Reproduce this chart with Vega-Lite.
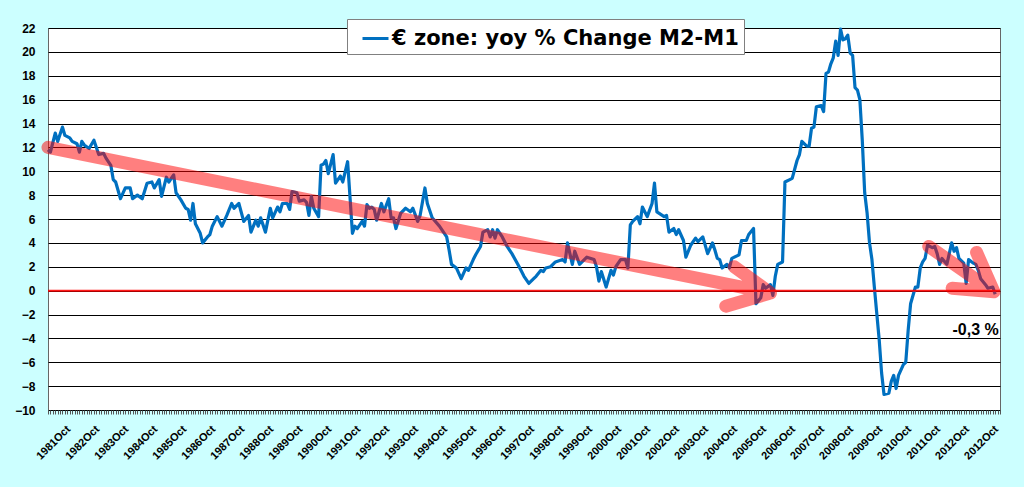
{
  "$schema": "https://vega.github.io/schema/vega-lite/v6.json",
  "width": 952,
  "height": 382,
  "autosize": {"type": "none"},
  "padding": {"left": 48, "top": 28, "right": 24, "bottom": 77},
  "background": "#ccffff",
  "config": {
    "view": {"fill": "white", "stroke": "#666666", "strokeWidth": 1},
    "axisY": {
      "grid": true,
      "gridColor": "black",
      "gridWidth": 1,
      "gridOpacity": 1,
      "domain": false,
      "ticks": false,
      "tickCount": 16,
      "labelOverlap": false,
      "labelFont": "Liberation Sans",
      "labelFontSize": 12,
      "labelFontWeight": "bold",
      "labelColor": "black",
      "labelPadding": 13
    }
  },
  "datasets": {
    "m3": [
      {"m": 0, "v": 11.8}, {"m": 1, "v": 11.6}, {"m": 3, "v": 13.2}, {"m": 4, "v": 12.5},
      {"m": 6, "v": 13.7}, {"m": 7, "v": 13.0}, {"m": 9, "v": 12.8}, {"m": 10, "v": 12.5},
      {"m": 12, "v": 12.3}, {"m": 13, "v": 11.6}, {"m": 14, "v": 12.5}, {"m": 15, "v": 12.2},
      {"m": 17, "v": 11.9}, {"m": 19, "v": 12.6}, {"m": 21, "v": 11.4}, {"m": 23, "v": 11.5},
      {"m": 24, "v": 11.1}, {"m": 26, "v": 10.5}, {"m": 27, "v": 9.3}, {"m": 28, "v": 9.1},
      {"m": 30, "v": 7.7}, {"m": 32, "v": 8.6}, {"m": 34, "v": 8.6}, {"m": 35, "v": 7.7},
      {"m": 37, "v": 8.0}, {"m": 39, "v": 7.7}, {"m": 41, "v": 9.0}, {"m": 43, "v": 9.1},
      {"m": 44, "v": 8.6}, {"m": 46, "v": 9.3}, {"m": 47, "v": 7.9}, {"m": 49, "v": 9.5},
      {"m": 50, "v": 9.1}, {"m": 52, "v": 9.7}, {"m": 53, "v": 8.2}, {"m": 55, "v": 7.6},
      {"m": 57, "v": 6.9}, {"m": 58, "v": 6.8}, {"m": 59, "v": 5.9}, {"m": 60, "v": 7.3},
      {"m": 61, "v": 5.6}, {"m": 63, "v": 4.8}, {"m": 64, "v": 4.0}, {"m": 66, "v": 4.5},
      {"m": 67, "v": 4.7}, {"m": 68, "v": 5.4}, {"m": 70, "v": 6.2}, {"m": 72, "v": 5.4},
      {"m": 74, "v": 6.3}, {"m": 76, "v": 7.3}, {"m": 77, "v": 6.9}, {"m": 79, "v": 7.3},
      {"m": 81, "v": 5.8}, {"m": 83, "v": 6.3}, {"m": 84, "v": 4.9}, {"m": 86, "v": 5.9},
      {"m": 87, "v": 5.4}, {"m": 88, "v": 6.1}, {"m": 90, "v": 4.9}, {"m": 92, "v": 6.9},
      {"m": 93, "v": 6.1}, {"m": 95, "v": 7.0}, {"m": 96, "v": 6.6}, {"m": 97, "v": 7.3},
      {"m": 99, "v": 7.3}, {"m": 100, "v": 6.8}, {"m": 101, "v": 8.3}, {"m": 103, "v": 8.2},
      {"m": 104, "v": 7.5}, {"m": 106, "v": 7.6}, {"m": 107, "v": 7.4}, {"m": 108, "v": 6.3},
      {"m": 109, "v": 7.9}, {"m": 110, "v": 6.9}, {"m": 112, "v": 6.2}, {"m": 113, "v": 10.5},
      {"m": 114, "v": 10.6}, {"m": 115, "v": 10.9}, {"m": 116, "v": 9.8}, {"m": 118, "v": 11.4},
      {"m": 119, "v": 9.0}, {"m": 121, "v": 9.6}, {"m": 122, "v": 9.1}, {"m": 124, "v": 10.8},
      {"m": 126, "v": 4.8}, {"m": 127, "v": 5.4}, {"m": 128, "v": 5.2}, {"m": 130, "v": 5.8},
      {"m": 131, "v": 5.4}, {"m": 132, "v": 7.2}, {"m": 133, "v": 6.9}, {"m": 134, "v": 7.0},
      {"m": 135, "v": 6.8}, {"m": 136, "v": 5.9}, {"m": 138, "v": 7.3}, {"m": 139, "v": 6.6},
      {"m": 141, "v": 7.7}, {"m": 142, "v": 6.1}, {"m": 143, "v": 6.1}, {"m": 144, "v": 5.2},
      {"m": 146, "v": 6.5}, {"m": 148, "v": 6.9}, {"m": 150, "v": 6.6}, {"m": 151, "v": 6.9},
      {"m": 153, "v": 5.8}, {"m": 154, "v": 6.3}, {"m": 156, "v": 8.6}, {"m": 157, "v": 7.3},
      {"m": 159, "v": 6.1}, {"m": 162, "v": 5.4}, {"m": 165, "v": 4.5}, {"m": 166, "v": 3.4},
      {"m": 167, "v": 2.2}, {"m": 169, "v": 1.9}, {"m": 171, "v": 1.0}, {"m": 173, "v": 1.9},
      {"m": 174, "v": 1.7}, {"m": 176, "v": 2.6}, {"m": 177, "v": 3.0}, {"m": 179, "v": 3.7},
      {"m": 180, "v": 4.9}, {"m": 182, "v": 5.1}, {"m": 183, "v": 4.5}, {"m": 184, "v": 5.1},
      {"m": 185, "v": 4.4}, {"m": 186, "v": 5.1}, {"m": 188, "v": 4.5}, {"m": 190, "v": 3.7},
      {"m": 192, "v": 3.1}, {"m": 195, "v": 2.0}, {"m": 197, "v": 1.2}, {"m": 199, "v": 0.6},
      {"m": 201, "v": 1.0}, {"m": 202, "v": 1.2}, {"m": 204, "v": 1.7}, {"m": 205, "v": 1.6},
      {"m": 206, "v": 1.9}, {"m": 208, "v": 2.0}, {"m": 210, "v": 2.4}, {"m": 213, "v": 2.6},
      {"m": 214, "v": 2.4}, {"m": 215, "v": 4.0}, {"m": 217, "v": 2.2}, {"m": 218, "v": 3.3},
      {"m": 220, "v": 2.2}, {"m": 223, "v": 2.8}, {"m": 226, "v": 2.6}, {"m": 227, "v": 2.0},
      {"m": 228, "v": 0.8}, {"m": 229, "v": 1.6}, {"m": 231, "v": 0.3}, {"m": 233, "v": 1.7},
      {"m": 234, "v": 1.3}, {"m": 235, "v": 2.0}, {"m": 237, "v": 2.6}, {"m": 239, "v": 2.6},
      {"m": 240, "v": 1.9}, {"m": 241, "v": 5.5}, {"m": 242, "v": 5.8}, {"m": 244, "v": 6.2},
      {"m": 245, "v": 5.6}, {"m": 246, "v": 7.0}, {"m": 248, "v": 6.2}, {"m": 250, "v": 7.3},
      {"m": 251, "v": 9.0}, {"m": 252, "v": 6.6}, {"m": 255, "v": 6.2}, {"m": 256, "v": 6.3},
      {"m": 257, "v": 4.9}, {"m": 259, "v": 5.2}, {"m": 260, "v": 4.7}, {"m": 261, "v": 5.1},
      {"m": 263, "v": 4.2}, {"m": 264, "v": 2.8}, {"m": 266, "v": 3.8}, {"m": 267, "v": 4.1},
      {"m": 268, "v": 4.4}, {"m": 269, "v": 4.1}, {"m": 271, "v": 4.5}, {"m": 273, "v": 3.1},
      {"m": 275, "v": 4.0}, {"m": 276, "v": 3.4}, {"m": 277, "v": 2.7}, {"m": 278, "v": 2.6},
      {"m": 279, "v": 1.9}, {"m": 281, "v": 2.2}, {"m": 282, "v": 1.9}, {"m": 283, "v": 2.7},
      {"m": 286, "v": 3.0}, {"m": 287, "v": 4.2}, {"m": 289, "v": 4.2}, {"m": 290, "v": 4.7},
      {"m": 292, "v": 5.2}, {"m": 293, "v": -1.1}, {"m": 295, "v": -0.6}, {"m": 296, "v": 0.5},
      {"m": 297, "v": 0.2}, {"m": 299, "v": 0.5}, {"m": 300, "v": -0.4}, {"m": 301, "v": 1.2},
      {"m": 302, "v": 2.2}, {"m": 304, "v": 2.4}, {"m": 305, "v": 9.1}, {"m": 307, "v": 9.3},
      {"m": 308, "v": 9.4}, {"m": 310, "v": 10.9}, {"m": 311, "v": 11.4}, {"m": 312, "v": 12.5},
      {"m": 314, "v": 12.1}, {"m": 315, "v": 12.1}, {"m": 316, "v": 13.6}, {"m": 317, "v": 13.7},
      {"m": 318, "v": 15.4}, {"m": 320, "v": 15.5}, {"m": 321, "v": 15.0}, {"m": 322, "v": 18.2},
      {"m": 323, "v": 18.3}, {"m": 324, "v": 19.0}, {"m": 325, "v": 19.5}, {"m": 326, "v": 20.9},
      {"m": 327, "v": 19.7}, {"m": 328, "v": 21.9}, {"m": 329, "v": 21.0}, {"m": 330, "v": 21.1},
      {"m": 331, "v": 21.4}, {"m": 332, "v": 19.9}, {"m": 333, "v": 19.7}, {"m": 334, "v": 17.0},
      {"m": 335, "v": 16.8}, {"m": 336, "v": 16.0}, {"m": 337, "v": 12.6}, {"m": 338, "v": 8.2},
      {"m": 339, "v": 6.5}, {"m": 340, "v": 4.0}, {"m": 341, "v": 2.6}, {"m": 342, "v": 0.3},
      {"m": 343, "v": -1.9}, {"m": 344, "v": -4.1}, {"m": 345, "v": -6.9}, {"m": 346, "v": -8.7},
      {"m": 348, "v": -8.6}, {"m": 349, "v": -7.6}, {"m": 350, "v": -7.1}, {"m": 351, "v": -8.2},
      {"m": 352, "v": -7.1}, {"m": 354, "v": -6.2}, {"m": 355, "v": -6.0}, {"m": 356, "v": -3.3},
      {"m": 357, "v": -1.1}, {"m": 359, "v": 0.3}, {"m": 360, "v": 0.3}, {"m": 361, "v": 1.9},
      {"m": 362, "v": 2.4}, {"m": 363, "v": 2.7}, {"m": 364, "v": 3.8}, {"m": 366, "v": 3.6},
      {"m": 367, "v": 3.7}, {"m": 368, "v": 3.1}, {"m": 369, "v": 2.2}, {"m": 370, "v": 2.7},
      {"m": 372, "v": 2.2}, {"m": 374, "v": 4.0}, {"m": 375, "v": 3.3}, {"m": 376, "v": 3.6},
      {"m": 377, "v": 2.7}, {"m": 379, "v": 2.3}, {"m": 380, "v": 0.6}, {"m": 381, "v": 2.6},
      {"m": 383, "v": 2.3}, {"m": 384, "v": 2.2}, {"m": 385, "v": 1.7}, {"m": 386, "v": 1.0},
      {"m": 388, "v": 0.5}, {"m": 389, "v": 0.2}, {"m": 391, "v": 0.3}, {"m": 392, "v": -0.3}
    ],
    "arrows": [
      {"a": 1, "o": 1, "m": 0, "v": 12.0},
      {"a": 1, "o": 2, "m": 299, "v": -0.2},
      {"a": 1, "o": 3, "m": 284, "v": 2.0},
      {"a": 1, "o": 4, "m": 299, "v": -0.2},
      {"a": 1, "o": 5, "m": 280.5, "v": -1.3},
      {"a": 2, "o": 1, "m": 364.5, "v": 3.7},
      {"a": 2, "o": 2, "m": 391.5, "v": -0.1},
      {"a": 2, "o": 3, "m": 384.3, "v": 3.2},
      {"a": 2, "o": 4, "m": 391.5, "v": -0.1},
      {"a": 2, "o": 5, "m": 374.2, "v": 0.2}
    ],
    "notes": [
      {"m": 393.5, "v": -3.7, "t": "-0,3 %"}
    ]
  },
  "resolve": {"axis": {"x": "independent"}},
  "layer": [
    {
      "data": {"name": "m3"},
      "mark": {"type": "line", "strokeWidth": 3.2, "strokeJoin": "round"},
      "encoding": {
        "x": {
          "field": "m",
          "type": "quantitative",
          "scale": {"domain": [0, 394], "nice": false, "zero": false},
          "axis": {
            "orient": "bottom",
            "values": [10, 22, 34, 46, 58, 70, 82, 94, 106, 118, 130, 142, 154, 166, 178, 190, 202, 214, 226, 238, 250, 262, 274, 286, 298, 310, 322, 334, 346, 358, 370, 382, 394],
            "labelExpr": "(datum.value >= 394 ? 2012 : 1981 + (datum.value - 10) / 12) + 'Oct'",
            "labelAngle": -45,
            "labelAlign": "right",
            "labelBaseline": "top",
            "labelFont": "Liberation Sans",
            "labelFontSize": 11,
            "labelFontWeight": "bold",
            "labelColor": "black",
            "labelPadding": 13,
            "labelOffset": -8,
            "labelFlush": false,
            "labelOverlap": false,
            "labelBound": false,
            "ticks": false,
            "domain": false,
            "grid": false,
            "title": null
          }
        },
        "y": {
          "field": "v",
          "type": "quantitative",
          "scale": {"domain": [-10, 22], "nice": false, "zero": false},
          "axis": {"title": null}
        },
        "color": {
          "datum": "€ zone: yoy % Change M2-M1",
          "type": "nominal",
          "scale": {"range": ["#0070c0"]},
          "legend": {
            "orient": "none",
            "legendX": 299,
            "legendY": -9,
            "title": null,
            "symbolType": "stroke",
            "symbolStrokeWidth": 3,
            "symbolSize": 676,
            "symbolOffset": 9,
            "labelFont": "DejaVu Sans",
            "labelFontSize": 21,
            "labelFontWeight": "bold",
            "labelColor": "black",
            "labelLimit": 0,
            "labelOffset": 2,
            "labelExpr": "datum.label + '  '",
            "padding": 5,
            "fillColor": "white",
            "strokeColor": "#808080"
          }
        }
      }
    },
    {
      "data": {"name": "notes"},
      "mark": {"type": "rule", "color": "#ff0000", "strokeWidth": 2, "opacity": 0.9},
      "encoding": {
        "y": {
          "datum": 0,
          "type": "quantitative",
          "scale": {"domain": [-10, 22], "nice": false, "zero": false},
          "axis": {"title": null}
        }
      }
    },
    {
      "data": {"name": "arrows"},
      "mark": {"type": "line", "color": "#ff0000", "opacity": 0.5, "strokeWidth": 13, "strokeCap": "round", "strokeJoin": "round"},
      "encoding": {
        "x": {
          "field": "m",
          "type": "quantitative",
          "scale": {"domain": [0, 394], "nice": false, "zero": false},
          "axis": {
            "orient": "bottom",
            "tickCount": 394,
            "labels": false,
            "domain": false,
            "grid": false,
            "ticks": true,
            "tickSize": 4,
            "tickColor": "#555555",
            "title": null
          }
        },
        "y": {
          "field": "v",
          "type": "quantitative",
          "scale": {"domain": [-10, 22], "nice": false, "zero": false},
          "axis": {"title": null}
        },
        "detail": {"field": "a", "type": "nominal"},
        "order": {"field": "o", "type": "quantitative"}
      }
    },
    {
      "data": {"name": "notes"},
      "mark": {"type": "text", "align": "right", "baseline": "alphabetic", "font": "Liberation Sans", "fontSize": 16, "fontWeight": "bold", "color": "black"},
      "encoding": {
        "x": {
          "field": "m",
          "type": "quantitative",
          "scale": {"domain": [0, 394], "nice": false, "zero": false},
          "axis": null
        },
        "y": {
          "field": "v",
          "type": "quantitative",
          "scale": {"domain": [-10, 22], "nice": false, "zero": false},
          "axis": {"title": null}
        },
        "text": {"field": "t", "type": "nominal"}
      }
    }
  ]
}
